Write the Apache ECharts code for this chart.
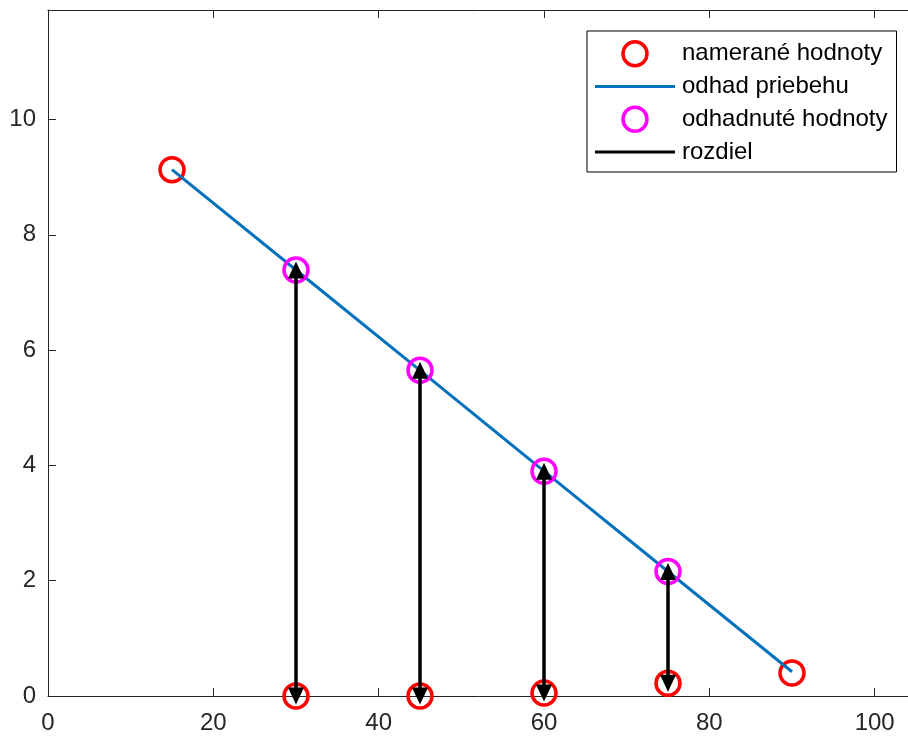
<!DOCTYPE html>
<html>
<head>
<meta charset="utf-8">
<script src="https://cdn.jsdelivr.net/npm/echarts@6/dist/echarts.min.js"></script>
<style>
  html, body { margin: 0; padding: 0; background: #fff; }
  #chart { width: 908px; height: 736px; }
</style>
</head>
<body>
<div id="chart"></div>
<script>
// measured points (red circles)
const measX = [15, 30, 45, 60, 75, 90];
const measY = [9.13, 0, 0, 0.05, 0.22, 0.40];
// fitted line (blue)
const fitY = [9.13, 7.39, 5.65, 3.90, 2.16, 0.42];
// estimated values (magenta circles)
const estX = [30, 45, 60, 75];
const estY = [7.39, 5.65, 3.90, 2.16];
// differences: arrow from estimate down to measured value
const diffTo = [0, 0, 0.05, 0.22];

const xTicks = [0, 20, 40, 60, 80, 100];
const yTicks = [0, 2, 4, 6, 8, 10];

const FONT = "'Liberation Sans', Arial, Helvetica, sans-serif";
const AXIS_COLOR = '#262626';
// horizontal bar used as legend icon for the line entries
const LINE_ICON = 'path://M0,0 L80,0 L80,3 L0,3 Z';

var myChart = echarts.init(document.getElementById('chart'));

// helpers to pair x and y arrays
function pairs(xs, ys) {
    return xs.map((x, i) => [x, ys[i]]);
}

const arrowLines = estX.map((x, i) => [
    { coord: [x, estY[i]] },
    { coord: [x, diffTo[i]] }
]);

function axisBase(pos, showLabels, isX) {
    return {
        type: 'value',
        position: pos,
        min: 0,
        max: isX ? 105 : 11.9,
        interval: isX ? 20 : 2,
        splitLine: { show: false },
        axisLine: { show: true, onZero: false, lineStyle: { color: AXIS_COLOR, width: 1 } },
        axisTick: { show: true, inside: true, length: 8, lineStyle: { color: AXIS_COLOR, width: 1 } },
        axisLabel: {
            show: showLabels,
            color: AXIS_COLOR,
            fontFamily: FONT,
            fontSize: 24,
            margin: isX ? 15 : 12,
            formatter: function (v) {
                const ticks = isX ? xTicks : yTicks;
                return ticks.indexOf(v) >= 0 ? String(v) : '';
            }
        }
    };
}

var option = {
    animation: false,
    grid: { left: 48, top: 10, width: 868, height: 686, containLabel: false, outerBoundsMode: 'none' },
    xAxis: [axisBase('bottom', true, true), axisBase('top', false, true)],
    yAxis: [axisBase('left', true, false), axisBase('right', false, false)],
    legend: {
        orient: 'vertical',
        left: 587,
        top: 31,
        padding: [9, 9, 8, 8],
        itemGap: 7,
        itemWidth: 80,
        itemHeight: 24,
        symbolKeepAspect: true,
        backgroundColor: '#fff',
        borderColor: '#000',
        borderWidth: 1,
        borderRadius: 0,
        selectedMode: false,
        textStyle: { fontFamily: FONT, fontSize: 24, color: '#000', padding: [0, 0, 0, 2] },
        data: [
            { name: 'namerané hodnoty', icon: 'circle',
              itemStyle: { color: 'rgba(0,0,0,0)', borderColor: '#ff0000', borderWidth: 3.5, opacity: 1 } },
            { name: 'odhad priebehu', icon: LINE_ICON,
              itemStyle: { color: '#0072bd', borderWidth: 0, opacity: 1 } },
            { name: 'odhadnuté hodnoty', icon: 'circle',
              itemStyle: { color: 'rgba(0,0,0,0)', borderColor: '#ff00ff', borderWidth: 3.5, opacity: 1 } },
            { name: 'rozdiel', icon: LINE_ICON,
              itemStyle: { color: '#000', borderWidth: 0, opacity: 1 } }
        ]
    },
    series: [
        {
            name: 'namerané hodnoty',
            type: 'scatter',
            data: pairs(measX, measY),
            symbol: 'circle',
            symbolSize: 24,
            clip: false,
            itemStyle: { color: 'rgba(0,0,0,0)', borderColor: '#ff0000', borderWidth: 3.5, opacity: 1 },
            z: 2
        },
        {
            name: 'odhad priebehu',
            type: 'line',
            data: pairs(measX, fitY),
            symbol: 'none',
            lineStyle: { color: '#0072bd', width: 3 },
            itemStyle: { color: '#0072bd' },
            z: 3
        },
        {
            name: 'odhadnuté hodnoty',
            type: 'scatter',
            data: pairs(estX, estY),
            symbol: 'circle',
            symbolSize: 24,
            clip: false,
            itemStyle: { color: 'rgba(0,0,0,0)', borderColor: '#ff00ff', borderWidth: 3.5, opacity: 1 },
            z: 4
        },
        {
            name: 'rozdiel',
            type: 'line',
            data: [],
            symbol: 'none',
            lineStyle: { color: '#000', width: 3 },
            itemStyle: { color: '#000' },
            z: 5,
            markLine: {
                silent: true,
                symbol: ['triangle', 'triangle'],
                symbolSize: [16, 17],
                label: { show: false },
                lineStyle: { color: '#000', width: 3.5, type: 'solid' },
                emphasis: { disabled: true },
                data: arrowLines
            }
        }
    ]
};

myChart.setOption(option);
</script>
</body>
</html>
